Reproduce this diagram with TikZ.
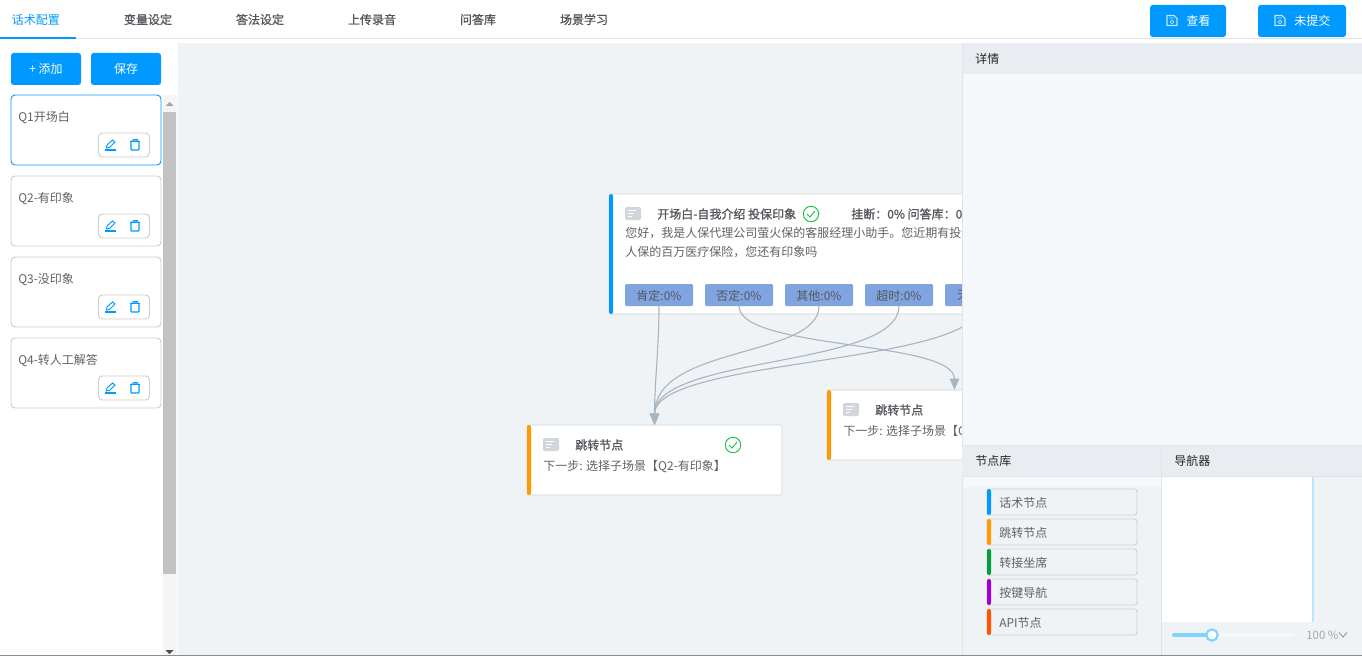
\documentclass[tikz,border=0pt]{standalone}
\usepackage{fontspec}
\setmainfont{Noto Sans CJK SC}
\newfontfamily\mediumcjk[FakeBold=1]{Noto Sans CJK SC}
\usetikzlibrary{arrows.meta,calc}
\definecolor{blue}{HTML}{0099FF}
\definecolor{canvas}{HTML}{F0F3F6}
\definecolor{head}{HTML}{E9ECF0}
\definecolor{pale}{HTML}{F4F8FB}
\definecolor{ink}{HTML}{606266}
\definecolor{dark}{HTML}{53575C}
\definecolor{wire}{HTML}{A9B6C2}
\definecolor{port}{HTML}{7FA4E0}
\definecolor{edge}{HTML}{E0E4E8}
\definecolor{grayline}{HTML}{CCCCCC}
\definecolor{okgreen}{HTML}{19C24A}
\definecolor{orange}{HTML}{FF9900}
\definecolor{docgray}{HTML}{D0D6DC}
\definecolor{navline}{HTML}{B8E6FF}
\definecolor{slide}{HTML}{7FD4FF}
\definecolor{libgreen}{HTML}{00A03C}
\definecolor{libpurple}{HTML}{A000D0}
\definecolor{libred}{HTML}{FF5500}
\tikzset{
  px/.style 2 args={minimum width=#1*0.75pt,minimum height=#2*0.75pt,inner sep=0pt,outer sep=0pt},
  txt/.style={inner sep=0pt,font=\fontsize{9}{11}\selectfont,text=ink,anchor=west},
  boldtxt/.style={inner sep=0pt,font=\fontsize{9}{11}\selectfont\mediumcjk,text=dark,anchor=west},
  tab/.style={inner sep=0pt,font=\fontsize{9}{11}\selectfont\mediumcjk,text=dark},
  btn/.style={fill=blue,rounded corners=2pt,text=white,font=\fontsize{9}{11}\selectfont},
  card/.style={draw=grayline,fill=white,rounded corners=3pt,line width=.7pt,anchor=north west},
  flow/.style={draw=edge,fill=white,rounded corners=2pt,line width=1.1pt,anchor=north west},
  portbox/.style={fill=port,rounded corners=1pt,text=dark,font=\fontsize{9}{11}\selectfont,anchor=north west,text height=9.5pt,text depth=1.5pt},
  wirea/.style={draw=wire,line width=.85pt,-{Triangle[length=8.5pt,width=7pt,fill=wire]}},
  icn/.style={draw=blue,line width=.7pt},
  lib/.style={draw=grayline,fill=canvas,rounded corners=2pt,line width=.7pt,anchor=north west},
  hd/.style={inner sep=0pt,font=\fontsize{9}{11}\selectfont,text=black!85,anchor=west},
}
\newcommand{\qcard}[3]{%
  \node[card,px={150}{70},#3] (q#1) at (11,#2) {};
  \node[txt] (qt#1) at (18,#2+23) {\ifcase#1\or Q1开场白\or Q2-有印象\or Q3-没印象\or Q4-转人工解答\fi};
  \node[card,px={51}{24},rounded corners=3pt] (qa#1) at (98.5,#2+38) {};
  \draw[icn,line width=.8pt] (105,#2+55) -- (116,#2+55);
  \draw[icn] (106.5,#2+53) -- (107,#2+50) -- (112.5,#2+45) -- (115,#2+47) -- (109.5,#2+52.5) -- cycle;
  \draw[icn,line width=.9pt,rounded corners=.6pt] (131,#2+46) rectangle (139,#2+55);
  \draw[icn] (130,#2+46) -- (140,#2+46) (132.5,#2+44) -- (137.5,#2+44);
}
\newcommand{\docicon}[2]{%
  \fill[docgray,rounded corners=1pt] (#1,#2) rectangle ++(16,13);
  \draw[white,line width=.7pt] (#1+3,#2+3.5) -- ++(8,0) (#1+3,#2+6.5) -- ++(6,0) (#1+3,#2+9.5) -- ++(4,0);
}
\newcommand{\okicon}[2]{%
  \draw[okgreen,line width=.7pt] (#1,#2) circle[radius=5.8pt];
  \draw[okgreen,line width=.7pt] (#1-4,#2) -- (#1-1,#2+3) -- (#1+4,#2-3);
}
\newcommand{\saveicon}[2]{%
  \draw[white!75!blue,line width=.8pt] (#1,#2) -- ++(7,0) -- ++(3,3) -- ++(0,7) -- ++(-10,0) -- cycle;
  \draw[white!75!blue,line width=.6pt] (#1+5,#2+6.5) circle[radius=1.4pt] (#1+2,#2+2.5) -- ++(5,0);
}
\newcommand{\libitem}[4]{%
  \node[lib,px={150}{26}] (lib#1) at (987,#2) {};
  \fill[#3,rounded corners=1.5pt] (987,#2) rectangle ++(4,26);
  \node[txt] (libt#1) at (999,#2+13.5) {#4};
}
\begin{document}
\begin{tikzpicture}[x=0.75pt,y=-0.75pt]
\useasboundingbox (0,0) rectangle (1362,656);
\fill[white] (0,0) rectangle (1362,656);
% canvas
\fill[canvas] (178,43) rectangle (1362,656);
% flow nodes
\begin{scope}
\clip (178,43) rectangle (962,656);
\node[flow,px={400}{120}] (main) at (609,194) {};
\fill[blue,rounded corners=1.5pt] (609,194) rectangle ++(4,120);
\docicon{625}{207}
\node[boldtxt] (maintitle) at (657,214) {开场白-自我介绍 投保印象};
\okicon{811}{214}
\node[boldtxt] (mainstat) at (851,214) {挂断：0\% 问答库：0\%};
\node[txt] (mainl1) at (625,233.5) {您好，我是人保代理公司萤火保的客服经理小助手。您近期有投保};
\node[txt] (mainl2) at (625,252.5) {人保的百万医疗保险，您还有印象吗};
\node[portbox,px={68}{22}] (p1) at (625,284) {肯定:0\%};
\node[portbox,px={68}{22}] (p2) at (705,284) {否定:0\%};
\node[portbox,px={68}{22}] (p3) at (785,284) {其他:0\%};
\node[portbox,px={68}{22}] (p4) at (865,284) {超时:0\%};
\node[portbox,px={68}{22}] (p5) at (945,284) {};
\node[txt,text=dark] (p5t) at (957,295.5) {无};
\node[flow,px={255}{70}] (j1) at (527,425) {};
\fill[orange,rounded corners=1.5pt] (527,425) rectangle ++(4,70);
\docicon{543}{438}
\node[boldtxt] (j1t) at (575,445) {跳转节点};
\okicon{733}{445}
\node[txt] (j1b) at (543,467) {下一步: 选择子场景【Q2-有印象】};
\node[flow,px={255}{70}] (j2) at (827,390) {};
\fill[orange,rounded corners=1.5pt] (827,390) rectangle ++(4,70);
\docicon{843}{403}
\node[boldtxt] (j2t) at (875,410) {跳转节点};
\node[txt] (j2b) at (843,432) {下一步: 选择子场景【Q3-没印象】};
% connectors
\draw[wirea] (p1.south) .. controls (659,345) and (654.5,385) .. (j1.north);
\draw[wirea] (p3.south) .. controls (819,358) and (654.5,345) .. (j1.north);
\draw[wirea] (p4.south) .. controls (899,368) and (654.5,355) .. (j1.north);
\draw[wirea] (p5.south) .. controls (979,365) and (654.5,358) .. (j1.north);
\draw[wirea] (p2.south) .. controls (739,350) and (954.5,340) .. (j2.north);
\end{scope}
% right panel
\fill[pale] (962,43) rectangle (1362,445);
\fill[head] (962,43) rectangle (1362,74);
\draw[edge,line width=.6pt] (962,43) -- (962,656);
\node[hd] (xq) at (975,59) {详情};
\fill[head] (962,446) rectangle (1362,476);
\draw[edge,line width=.6pt] (962,445.5) -- (1362,445.5) (962,476.5) -- (1362,476.5);
\node[hd] (jdk) at (975,460.5) {节点库};
\node[hd] (dhq) at (1174,460.5) {导航器};
\fill[pale] (963,477) rectangle (1161,487);
\fill[canvas] (963,487) rectangle (1161,656);
\fill[canvas] (1162,477) rectangle (1362,656);
\draw[edge,line width=.6pt] (1161.5,446) -- (1161.5,656);
\fill[white] (1162,477) rectangle (1312,622);
\draw[navline,line width=1.2pt] (1312.7,477) -- (1312.7,622);
\libitem{1}{489}{blue}{话术节点}
\libitem{2}{519}{orange}{跳转节点}
\libitem{3}{549}{libgreen}{转接坐席}
\libitem{4}{579}{libpurple}{按键导航}
\libitem{5}{609}{libred}{API节点}
% slider
\draw[black!3,line width=3pt,line cap=round] (1174,635) -- (1292,635);
\draw[slide,line width=3pt,line cap=round] (1174,635) -- (1212,635);
\node[circle,draw=slide,line width=1.6pt,fill=white,minimum size=8.5pt,inner sep=0pt] (knob) at (1212,635) {};
\node[txt,text=black!35,font=\fontsize{8.6}{11}\selectfont] (zoomv) at (1306,635) {100 \%};
\draw[black!45,line width=.6pt] (1339,632.5) -- (1343,637) -- (1347,632.5);
% left bar
\fill[white] (0,39) rectangle (178,656);
\fill[black!4] (163,95) rectangle (177,656);
\fill[black!24] (163,112) rectangle (176,574);
\fill[black!35] (165.5,106) -- (169.5,102) -- (173.5,106) -- cycle;
\fill[black!70] (165.5,650) -- (169.5,654) -- (173.5,650) -- cycle;
\node[btn,px={70}{32},anchor=north west] (add) at (11,53) {+ 添加};
\node[btn,px={70}{32},anchor=north west] (save) at (91,53) {保存};
\qcard{1}{95}{draw=blue}
\qcard{2}{176}{}
\qcard{3}{257}{}
\qcard{4}{338}{}
% top
\draw[edge,line width=.75pt] (0,38.5) -- (1362,38.5);
\fill[blue] (0,37) rectangle (76,39);
\node[tab,text=blue,font=\fontsize{9}{11}\selectfont] (t1) at (36,19.5) {话术配置};
\node[tab] (t2) at (148,19.5) {变量设定};
\node[tab] (t3) at (260,19.5) {答法设定};
\node[tab] (t4) at (372,19.5) {上传录音};
\node[tab] (t5) at (478,19.5) {问答库};
\node[tab] (t6) at (584,19.5) {场景学习};
\node[btn,px={76}{32},anchor=north west] (b1) at (1150,5) {};
\node[btn,px={88}{32},anchor=north west] (b2) at (1258,5) {};
\saveicon{1167}{15.5}
\saveicon{1275}{15.5}
\node[txt,text=white] (b1t) at (1186,20.5) {查看};
\node[txt,text=white] (b2t) at (1294,20.5) {未提交};
\fill[black!45] (0,655) rectangle (1362,656);
\end{tikzpicture}
\end{document}
